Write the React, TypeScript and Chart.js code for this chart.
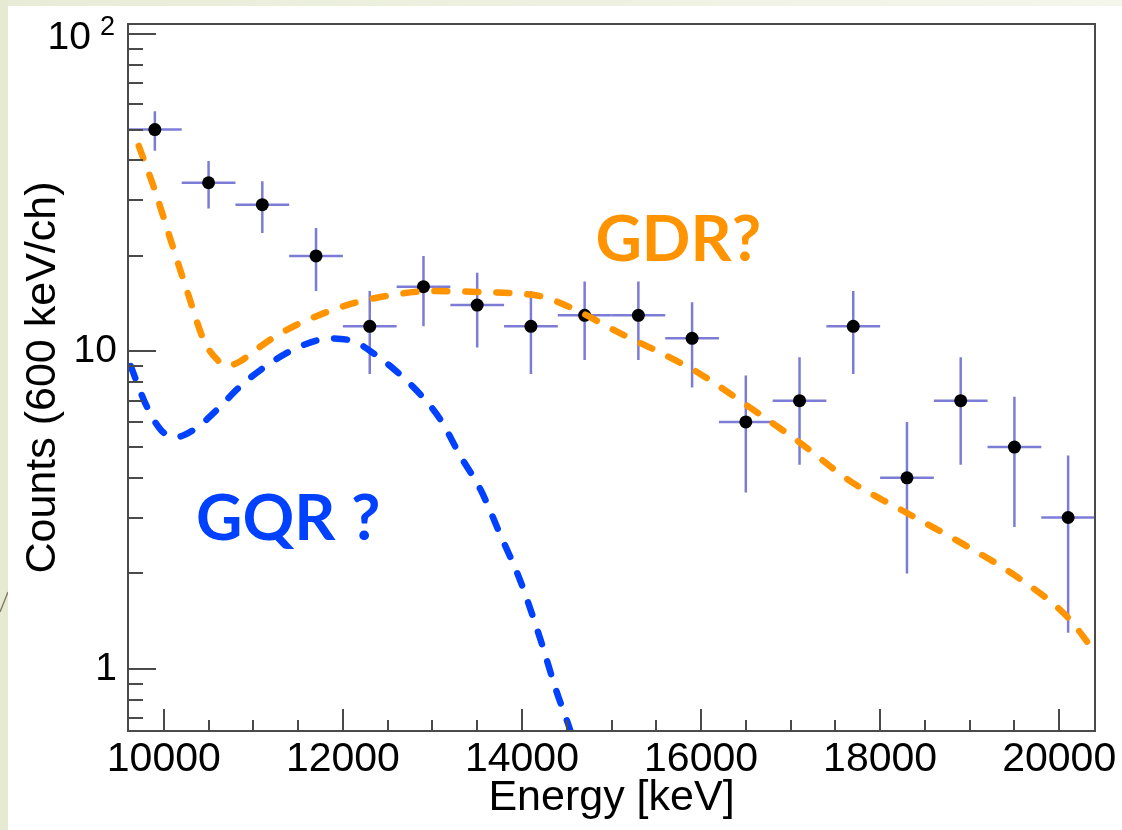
import React, { useEffect, useRef } from 'react';
import { Chart, registerables } from 'chart.js';

Chart.register(...registerables);

// ---- Data ----
const binCenters = [9900, 10500, 11100, 11700, 12300, 12900, 13500, 14100, 14700, 15300, 15900, 16500, 17100, 17700, 18300, 18900, 19500, 20100];
const counts = [50, 34, 29, 20, 12, 16, 14, 12, 13, 13, 11, 6, 7, 12, 4, 7, 5, 3];
const countErrors = [7.1, 5.8, 5.4, 4.5, 3.5, 4.0, 3.7, 3.5, 3.6, 3.6, 3.3, 2.4, 2.6, 3.5, 2.0, 2.6, 2.2, 1.7];
const binHalfWidth = 300;

const gdrEnergy = [9720, 9890, 10080, 10270, 10450, 10600, 10700, 10850, 11000, 11300, 11670, 12120, 12640, 13010, 13500, 13990, 14260, 14650, 15100, 15550, 15990, 16500, 17110, 17670, 18300, 18900, 19530, 20090, 20400];
const gdrCounts = [44.4, 32.8, 22.3, 15.2, 10.8, 9.4, 9.0, 9.3, 10.0, 11.4, 12.8, 14.2, 15.2, 15.5, 15.4, 15.2, 14.8, 13.3, 11.4, 9.9, 8.5, 6.8, 5.15, 3.9, 3.1, 2.5, 1.95, 1.46, 1.13];

const gqrEnergy = [9630, 9800, 9970, 10130, 10360, 10580, 10860, 11190, 11530, 11860, 12140, 12420, 12590, 12870, 13090, 13310, 13540, 13760, 13980, 14210, 14380, 14540, 14700];
const gqrCounts = [9.0, 6.8, 5.65, 5.37, 5.73, 6.5, 7.8, 9.2, 10.4, 11.0, 10.7, 9.5, 8.7, 7.3, 6.1, 4.7, 3.66, 2.64, 1.9, 1.23, 0.86, 0.64, 0.45];

const xTickValues = [10000, 12000, 14000, 16000, 18000, 20000];
const xMinorTickValues = [10500, 11000, 11500, 12500, 13000, 13500, 14500, 15000, 15500, 16500, 17000, 17500, 18500, 19000, 19500];
const yTickValues = [1, 10, 100];
const yTickBases = ['1', '10', '10'];
const yTickExponents = ['', '', '2'];
const yMinorTickValues = [0.7, 0.8, 0.9, 2, 3, 4, 5, 6, 7, 8, 9, 20, 30, 40, 50, 60, 70, 80, 90];

const xRange = [9600, 20400];
const yRange = [0.638, 107.5];

const annotationTexts = ['GDR?', 'GQR ?'];
const annotationEnergy = [14820, 10360];
const annotationCounts = [19.3, 2.55];
const annotationColors = ['#ff9300', '#0041ff'];

const ORANGE = '#ff9300';
const BLUE = '#0041ff';
const FRAME = '#4a4a4a';
const ERR = 'rgba(80, 80, 200, 0.75)';
const FONT = "'Liberation Sans', Arial, Helvetica, sans-serif";

const rootPlugin = {
  id: 'rootStyle',
  beforeDatasetsDraw(chart: any) {
    const ctx = chart.ctx;
    const xs = chart.scales.x;
    const ys = chart.scales.y;
    const { left, right, top, bottom } = chart.chartArea;
    ctx.save();
    ctx.beginPath();
    ctx.rect(left, top, right - left, bottom - top);
    ctx.clip();
    ctx.strokeStyle = ERR;
    ctx.lineWidth = 2.5;
    binCenters.forEach((e, i) => {
      const px = xs.getPixelForValue(e);
      const py = ys.getPixelForValue(counts[i]);
      const hi = ys.getPixelForValue(counts[i] + countErrors[i]);
      const lo = ys.getPixelForValue(counts[i] - countErrors[i]);
      ctx.beginPath();
      ctx.moveTo(xs.getPixelForValue(e - binHalfWidth), py);
      ctx.lineTo(xs.getPixelForValue(e + binHalfWidth), py);
      ctx.moveTo(px, hi);
      ctx.lineTo(px, lo);
      ctx.stroke();
    });
    ctx.restore();
  },
  afterDraw(chart: any) {
    const ctx = chart.ctx;
    const xs = chart.scales.x;
    const ys = chart.scales.y;
    const { left, right, top, bottom } = chart.chartArea;
    ctx.save();
    ctx.strokeStyle = FRAME;
    ctx.lineWidth = 2;
    const seg = (x1: number, y1: number, x2: number, y2: number) => {
      ctx.beginPath();
      ctx.moveTo(x1, y1);
      ctx.lineTo(x2, y2);
      ctx.stroke();
    };
    xTickValues.forEach((v) => {
      const p = Math.round(xs.getPixelForValue(v));
      seg(p, bottom, p, bottom - 22);
    });
    xMinorTickValues.forEach((v) => {
      const p = Math.round(xs.getPixelForValue(v));
      seg(p, bottom, p, bottom - 11);
    });
    yTickValues.forEach((v) => {
      const p = Math.round(ys.getPixelForValue(v));
      seg(left, p, left + 28, p);
    });
    yMinorTickValues.forEach((v) => {
      const p = Math.round(ys.getPixelForValue(v));
      seg(left, p, left + 15, p);
    });
    ctx.strokeRect(left, top, right - left, bottom - top);

    // y tick labels (ROOT style, with superscript exponent)
    ctx.fillStyle = '#000';
    ctx.textAlign = 'right';
    yTickValues.forEach((v, i) => {
      const p = ys.getPixelForValue(v);
      const exp = yTickExponents[i];
      if (exp) {
        ctx.font = `27px ${FONT}`;
        ctx.textBaseline = 'alphabetic';
        ctx.fillText(exp, left - 13, p + 1);
        ctx.font = `39px ${FONT}`;
        ctx.textBaseline = 'middle';
        ctx.fillText(yTickBases[i], left - 37, p + 4);
      } else {
        ctx.font = `39px ${FONT}`;
        ctx.textBaseline = 'middle';
        ctx.fillText(yTickBases[i], left - 11, p);
      }
    });

    // annotations
    ctx.textAlign = 'left';
    ctx.textBaseline = 'alphabetic';
    ctx.font = "bold 64px Lato, 'Open Sans', sans-serif";
    annotationTexts.forEach((t, i) => {
      ctx.fillStyle = annotationColors[i];
      ctx.fillText(t, xs.getPixelForValue(annotationEnergy[i]), ys.getPixelForValue(annotationCounts[i]));
    });
    ctx.restore();
  },
};

export default function App() {
  const canvasRef = useRef<HTMLCanvasElement | null>(null);

  useEffect(() => {
    if (!canvasRef.current) return;
    const chart = new Chart(canvasRef.current, {
      type: 'scatter',
      data: {
        datasets: [
          {
            label: 'GDR',
            data: gdrEnergy.map((e, i) => ({ x: e, y: gdrCounts[i] })),
            showLine: true,
            borderColor: ORANGE,
            borderWidth: 6.5,
            borderDash: [13, 18],
            borderCapStyle: 'round',
            pointRadius: 0,
            cubicInterpolationMode: 'monotone',
            order: 0,
          } as any,
          {
            label: 'GQR',
            data: gqrEnergy.map((e, i) => ({ x: e, y: gqrCounts[i] })),
            showLine: true,
            borderColor: BLUE,
            borderWidth: 6.5,
            borderDash: [13, 18],
            borderCapStyle: 'round',
            pointRadius: 0,
            cubicInterpolationMode: 'monotone',
            order: 1,
          } as any,
          {
            label: 'Data',
            data: binCenters.map((e, i) => ({ x: e, y: counts[i] })),
            showLine: false,
            pointRadius: 6.5,
            pointBackgroundColor: '#000',
            pointBorderWidth: 0,
            order: 2,
          },
        ],
      },
      options: {
        animation: false,
        responsive: false,
        devicePixelRatio: 1,
        events: [],
        layout: { padding: { left: 0, top: 18, right: 27, bottom: 0 } },
        plugins: {
          legend: { display: false },
          tooltip: { enabled: false },
        },
        scales: {
          x: {
            type: 'linear',
            min: xRange[0],
            max: xRange[1],
            bounds: 'data',
            grid: { display: false, drawTicks: false },
            border: { display: false },
            afterBuildTicks: (scale: any) => {
              scale.ticks = xTickValues.map((v) => ({ value: v }));
            },
            afterFit: (scale: any) => {
              scale.height = 99;
              scale.paddingLeft = 0;
              scale.paddingRight = 0;
              scale.paddingTop = 0;
              scale.paddingBottom = 0;
            },
            ticks: {
              autoSkip: false,
              maxRotation: 0,
              padding: 4,
              color: '#000',
              font: { family: FONT, size: 41 },
              callback: (v: any) => String(v),
            },
            title: {
              display: true,
              text: 'Energy [keV]',
              color: '#000',
              font: { family: FONT, size: 43 },
              padding: { top: 0, bottom: 6 },
            },
          },
          y: {
            type: 'logarithmic',
            min: yRange[0],
            max: yRange[1],
            bounds: 'data',
            grid: { display: false, drawTicks: false },
            border: { display: false },
            afterBuildTicks: (scale: any) => {
              scale.ticks = yTickValues.map((v) => ({ value: v }));
            },
            afterFit: (scale: any) => {
              scale.width = 120;
              scale.paddingLeft = 0;
              scale.paddingRight = 0;
              scale.paddingTop = 0;
              scale.paddingBottom = 0;
            },
            ticks: {
              display: false,
            },
            title: {
              display: true,
              text: 'Counts (600 keV/ch)',
              color: '#000',
              font: { family: FONT, size: 43 },
              padding: { top: 9, bottom: 0 },
            },
          },
        },
      },
      plugins: [rootPlugin],
    });
    return () => chart.destroy();
  }, []);

  return (
    <div style={{ position: 'fixed', left: 0, top: 0, width: 1122, height: 830, background: '#e6ead3', overflow: 'hidden' }}>
      <div style={{ position: 'absolute', left: 8, top: 0, right: 0, height: 6, background: 'linear-gradient(to right, #e8ecd7, #f4f6ec)' }} />
      <svg style={{ position: 'absolute', left: 0, top: 0 }} width={8} height={830}>
        <line x1={8} y1={592} x2={0} y2={612} stroke="#8a8266" strokeWidth={1.5} />
      </svg>
      <canvas
        ref={canvasRef}
        width={1114}
        height={824}
        style={{ position: 'absolute', left: 8, top: 6, width: 1114, height: 824, background: '#ffffff', display: 'block' }}
      />
    </div>
  );
}
